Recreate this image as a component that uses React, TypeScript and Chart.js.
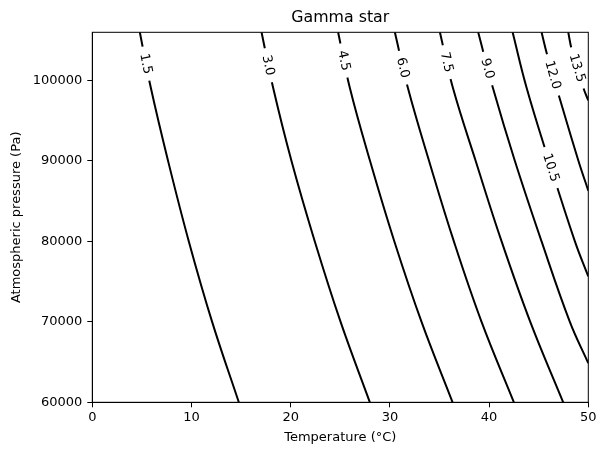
import { useEffect, useRef } from "react";
import { Chart, registerables } from "chart.js";

Chart.register(...registerables);

const FONT = "'DejaVu Sans', sans-serif";

// contour levels of gamma star
const levels = ["1.5", "3.0", "4.5", "6.0", "7.5", "9.0", "10.5", "12.0", "13.5"];

// temperature (°C), top to bottom
const contourTemps = [
  [4.79, 5.9, 7.64, 9.73, 12.08, 14.77],
  [17.06, 18.23, 20.08, 22.43, 25.03, 27.98],
  [24.78, 25.96, 28.0, 30.45, 33.19, 36.32],
  [30.5, 31.81, 33.95, 36.45, 39.24, 42.5],
  [35.04, 36.35, 38.65, 41.26, 44.15, 47.47],
  [38.9, 40.38, 42.6, 45.29, 48.14, 50],
  [42.37, 43.78, 46.03, 48.65, 50],
  [45.29, 45.83, 47.09, 49.01, 50],
  [47.98, 48.32, 49.49, 50],
];

// matching atmospheric pressure (Pa)
const contourPressures = [
  [106000, 99100, 90000, 80000, 70000, 60000],
  [106000, 99100, 90000, 80000, 70000, 60000],
  [106000, 99100, 90000, 80000, 70000, 60000],
  [106000, 99100, 90000, 80000, 70000, 60000],
  [106000, 99100, 90000, 80000, 70000, 60000],
  [106000, 99100, 90000, 80000, 70000, 64860],
  [106000, 99100, 90000, 80000, 75640],
  [106000, 103290, 97895, 90000, 86310],
  [106000, 103910, 99140, 97520],
];

// pressure where each inline label sits
const labelPressures = [102100, 101900, 102500, 101600, 102300, 101500, 89180, 100700, 101570];

const tempTicks = [0, 10, 20, 30, 40, 50];
const pressureTicks = [60000, 70000, 80000, 90000, 100000];

// inline contour labels: blank the line under the text and write it along the line
const contourLabels = {
  id: "contourLabels",
  afterDatasetsDraw(chart: any) {
    const { ctx, chartArea, scales } = chart;
    ctx.save();
    ctx.beginPath();
    ctx.rect(chartArea.left, chartArea.top, chartArea.right - chartArea.left, chartArea.bottom - chartArea.top);
    ctx.clip();
    ctx.font = `13px ${FONT}`;
    ctx.textAlign = "center";
    ctx.textBaseline = "middle";
    levels.forEach((text, i) => {
      const pts = chart.getDatasetMeta(i).data;
      const py = scales.y.getPixelForValue(labelPressures[i]);
      for (let k = 0; k < pts.length - 1; k++) {
        const a = pts[k];
        const b = pts[k + 1];
        if (py >= a.y && py <= b.y) {
          const t = (py - a.y) / (b.y - a.y);
          const px = a.x + (b.x - a.x) * t;
          const angle = Math.atan2(b.y - a.y, b.x - a.x);
          const w = ctx.measureText(text).width;
          ctx.save();
          ctx.translate(px, py);
          ctx.rotate(angle);
          ctx.fillStyle = "#fff";
          ctx.fillRect(-w / 2 - 7, -3.5, w + 14, 7);
          ctx.fillStyle = "#000";
          ctx.fillText(text, 0, 0.5);
          ctx.restore();
          break;
        }
      }
    });
    ctx.restore();
  },
};

const frameAndTitle = {
  id: "frameAndTitle",
  afterDraw(chart: any) {
    const { ctx, chartArea } = chart;
    ctx.save();
    ctx.strokeStyle = "#000";
    ctx.lineWidth = 1;
    ctx.strokeRect(chartArea.left, chartArea.top, chartArea.right - chartArea.left, chartArea.bottom - chartArea.top);
    ctx.fillStyle = "#000";
    ctx.font = `15.8px ${FONT}`;
    ctx.textAlign = "center";
    ctx.textBaseline = "middle";
    ctx.fillText("Gamma star", (chartArea.left + chartArea.right) / 2, 18);
    ctx.restore();
  },
};

export default function App() {
  const chartRef = useRef<HTMLCanvasElement>(null);
  const chartInstance = useRef<Chart | null>(null);

  useEffect(() => {
    if (chartInstance.current) {
      chartInstance.current.destroy();
    }
    const canvas = chartRef.current;
    if (!canvas) return;

    const datasets = levels.map((lvl, i) => ({
      label: lvl,
      data: contourTemps[i].map((t, k) => ({ x: t, y: contourPressures[i][k] })),
      borderColor: "#000",
      borderWidth: 2,
      pointRadius: 0,
      tension: 0.4,
      fill: false,
    }));

    chartInstance.current = new Chart(canvas, {
      type: "line",
      data: { datasets },
      options: {
        responsive: false,
        animation: false,
        events: [],
        layout: { padding: { top: 32.3, right: 17.7, bottom: 0, left: 0 } },
        plugins: {
          legend: { display: false },
          tooltip: { enabled: false },
        },
        scales: {
          x: {
            type: "linear",
            min: 0,
            max: 50,
            afterFit: (scale: any) => {
              scale.height = 52.7;
            },
            afterBuildTicks: (scale: any) => {
              scale.ticks = tempTicks.map((v) => ({ value: v }));
            },
            ticks: {
              color: "#000",
              font: { family: FONT, size: 13 },
              padding: 3,
              maxRotation: 0,
              callback: (v: any) => String(v),
            },
            grid: { drawOnChartArea: false, drawTicks: true, tickLength: 5, tickColor: "#000", tickWidth: 1 },
            border: { display: true, color: "#000", width: 1 },
            title: {
              display: true,
              text: "Temperature (°C)",
              color: "#000",
              font: { family: FONT, size: 13 },
              padding: { top: 0, bottom: 10 },
            },
          },
          y: {
            type: "linear",
            min: 60000,
            max: 106000,
            afterFit: (scale: any) => {
              scale.width = 92.3;
            },
            afterBuildTicks: (scale: any) => {
              scale.ticks = pressureTicks.map((v) => ({ value: v }));
            },
            ticks: {
              color: "#000",
              font: { family: FONT, size: 13 },
              padding: 5,
              callback: (v: any) => String(v),
            },
            grid: { drawOnChartArea: false, drawTicks: true, tickLength: 5, tickColor: "#000", tickWidth: 1 },
            border: { display: true, color: "#000", width: 1 },
            title: {
              display: true,
              text: "Atmospheric pressure (Pa)",
              color: "#000",
              font: { family: FONT, size: 13 },
              padding: { top: 9, bottom: 0 },
            },
          },
        },
      },
      plugins: [contourLabels, frameAndTitle],
    });

    return () => {
      if (chartInstance.current) {
        chartInstance.current.destroy();
        chartInstance.current = null;
      }
    };
  }, []);

  return (
    <div style={{ position: "absolute", left: 0, top: 0, width: 606, height: 455, background: "#fff" }}>
      <canvas ref={chartRef} width={606} height={455} style={{ display: "block" }} />
    </div>
  );
}
